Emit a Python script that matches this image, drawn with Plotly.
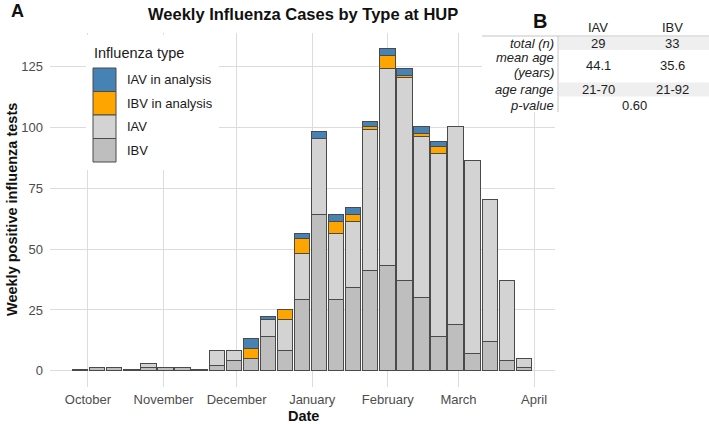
import plotly.graph_objects as go

# ---------------- data ----------------
weeks = ["2019-09-28", "2019-10-05", "2019-10-12", "2019-10-19", "2019-10-26",
         "2019-11-02", "2019-11-09", "2019-11-16", "2019-11-23", "2019-11-30",
         "2019-12-07", "2019-12-14", "2019-12-21", "2019-12-28", "2020-01-04",
         "2020-01-11", "2020-01-18", "2020-01-25", "2020-02-01", "2020-02-08",
         "2020-02-15", "2020-02-22", "2020-02-29", "2020-03-07", "2020-03-14",
         "2020-03-21", "2020-03-28"]
ibv = [0, 1, 1, 0, 1, 1, 1, 0, 2, 4, 5, 14, 8, 29, 64, 29, 34, 41, 43, 37, 30, 14, 19, 7, 12, 4, 1]
iav = [0, 0, 0, 0, 2, 0, 0, 0, 6, 4, 0, 7, 13, 19, 31, 27, 27, 58, 81, 83, 66, 75, 81, 79, 58, 33, 4]
ibv_analysis = [0, 0, 0, 0, 0, 0, 0, 0, 0, 0, 4, 0, 4, 6, 0, 5, 3, 1, 5, 1, 1, 3, 0, 0, 0, 0, 0]
iav_analysis = [0, 0, 0, 0, 0, 0, 0, 0, 0, 0, 4, 1, 0, 2, 3, 3, 3, 2, 3, 3, 3, 2, 0, 0, 0, 0, 0]

month_ticks = ["2019-10-01", "2019-11-01", "2019-12-01", "2020-01-01",
               "2020-02-01", "2020-03-01", "2020-04-01"]
month_labels = ["October", "November", "December", "January", "February", "March", "April"]
y_ticks = [0, 25, 50, 75, 100, 125]

legend_names = ["IAV in analysis", "IBV in analysis", "IAV", "IBV"]
legend_colors = ["#4682B4", "#FFA500", "#D3D3D3", "#BEBEBE"]

table_header = ["IAV", "IBV"]
table_rows = ["total (n)", "mean age", "(years)", "age range", "p-value"]
table_iav = ["29", "44.1", "21-70"]
table_ibv = ["33", "35.6", "21-92"]
table_pvalue = "0.60"

# ---------------- style ----------------
FONT = "Liberation Sans, Arial, Helvetica, sans-serif"
OUTLINE = "#4a4a4a"
GRID = "#dcdcdc"
W, H = 709, 424
L, R, T, B = 50, 555, 33, 387          # plot area in pixels
BAR_W = 6.3 * 86400000                 # 0.9 of a week in ms


def xp(px):
    return (px - L) / (R - L)


def yp(py):
    return (B - py) / (B - T)


totals = [a + b + c + d for a, b, c, d in zip(ibv, iav, ibv_analysis, iav_analysis)]
zero_weeks = [0.3 if t == 0 else 0 for t in totals]

fig = go.Figure()
fig.add_trace(go.Bar(x=weeks, y=zero_weeks, width=BAR_W, showlegend=False,
                     marker=dict(color=OUTLINE, line=dict(color=OUTLINE, width=1)),
                     hoverinfo="skip"))
series = [("IBV", ibv, legend_colors[3]), ("IAV", iav, legend_colors[2]),
          ("IBV in analysis", ibv_analysis, legend_colors[1]),
          ("IAV in analysis", iav_analysis, legend_colors[0])]
for name, vals, col in series:
    fig.add_trace(go.Bar(x=weeks, y=vals, name=name, width=BAR_W, showlegend=False,
                         marker=dict(color=col, line=dict(color=OUTLINE, width=1))))

shapes = []
annotations = []

# custom legend
shapes.append(dict(type="rect", xref="paper", yref="paper", layer="above",
                   x0=xp(86), x1=xp(219), y0=yp(35), y1=yp(170),
                   fillcolor="white", line=dict(width=0)))
annotations.append(dict(xref="paper", yref="paper", x=xp(92), y=yp(53), xanchor="left",
                        yanchor="middle", showarrow=False, text="Influenza type",
                        font=dict(family=FONT, size=14.5, color="#1a1a1a")))
key_h = 23.5
for i, (nm, col) in enumerate(zip(legend_names, legend_colors)):
    top = 68 + i * key_h
    shapes.append(dict(type="rect", xref="paper", yref="paper", layer="above",
                       x0=xp(93), x1=xp(116), y0=yp(top), y1=yp(top + key_h),
                       fillcolor=col, line=dict(color=OUTLINE, width=1)))
    annotations.append(dict(xref="paper", yref="paper", x=xp(125), y=yp(top + key_h / 2),
                            xanchor="left", yanchor="middle", showarrow=False, text=nm,
                            font=dict(family=FONT, size=13, color="#1a1a1a")))

# table panel B
shapes.append(dict(type="rect", xref="paper", yref="paper", layer="above",
                   x0=xp(482), x1=xp(709), y0=yp(30), y1=yp(112),
                   fillcolor="white", line=dict(width=0)))
for (y0, y1) in [(37, 50), (82.5, 96.5)]:
    shapes.append(dict(type="rect", xref="paper", yref="paper", layer="above",
                       x0=xp(559), x1=xp(709), y0=yp(y0), y1=yp(y1),
                       fillcolor="#efefef", line=dict(width=0)))
shapes.append(dict(type="line", xref="paper", yref="paper", layer="above",
                   x0=xp(482), x1=xp(709), y0=yp(36), y1=yp(36),
                   line=dict(color="#c4c4c4", width=1)))
shapes.append(dict(type="line", xref="paper", yref="paper", layer="above",
                   x0=xp(558), x1=xp(558), y0=yp(36), y1=yp(112),
                   line=dict(color="#c4c4c4", width=1)))

col_x = [598, 672]
label_y = [43.5, 57.5, 72, 89.5, 105]
value_y = [43.5, 65, 89.5]
tfont = dict(family=FONT, size=13, color="#222222")
for cx, h in zip(col_x, table_header):
    annotations.append(dict(xref="paper", yref="paper", x=xp(cx), y=yp(28), xanchor="center",
                            yanchor="middle", showarrow=False, text=h, font=tfont))
for ry, lab in zip(label_y, table_rows):
    annotations.append(dict(xref="paper", yref="paper", x=xp(556), y=yp(ry), xanchor="right",
                            yanchor="middle", showarrow=False, align="right",
                            text="<i>" + lab + "</i>", font=tfont))
for ry, a, b in zip(value_y, table_iav, table_ibv):
    annotations.append(dict(xref="paper", yref="paper", x=xp(col_x[0]), y=yp(ry), xanchor="center",
                            yanchor="middle", showarrow=False, text=a, font=tfont))
    annotations.append(dict(xref="paper", yref="paper", x=xp(col_x[1]), y=yp(ry), xanchor="center",
                            yanchor="middle", showarrow=False, text=b, font=tfont))
annotations.append(dict(xref="paper", yref="paper", x=xp(634), y=yp(label_y[-1]), xanchor="center",
                        yanchor="middle", showarrow=False, text=table_pvalue, font=tfont))

# panel letters, title, axis titles
annotations.append(dict(xref="paper", yref="paper", x=xp(17), y=yp(11), xanchor="center",
                        yanchor="middle", showarrow=False, text="<b>A</b>",
                        font=dict(family=FONT, size=18, color="#111111")))
annotations.append(dict(xref="paper", yref="paper", x=xp(539.5), y=yp(21), xanchor="center",
                        yanchor="middle", showarrow=False, text="<b>B</b>",
                        font=dict(family=FONT, size=20, color="#111111")))
annotations.append(dict(xref="paper", yref="paper", x=xp(303), y=yp(14), xanchor="center",
                        yanchor="middle", showarrow=False,
                        text="<b>Weekly Influenza Cases by Type at HUP</b>",
                        font=dict(family=FONT, size=16.5, color="#111111")))
annotations.append(dict(xref="paper", yref="paper", x=xp(12), y=yp(210), xanchor="center",
                        yanchor="middle", showarrow=False, textangle=-90,
                        text="<b>Weekly positive influenza tests</b>",
                        font=dict(family=FONT, size=14.5, color="#111111")))
annotations.append(dict(xref="paper", yref="paper", x=xp(303), y=yp(415.5), xanchor="center",
                        yanchor="middle", showarrow=False, text="<b>Date</b>",
                        font=dict(family=FONT, size=14.5, color="#111111")))

fig.update_layout(
    width=W, height=H, barmode="stack", bargap=0,
    margin=dict(l=L, r=W - R, t=T, b=H - B, pad=0),
    paper_bgcolor="white", plot_bgcolor="white",
    font=dict(family=FONT, size=13, color="#4d4d4d"),
    showlegend=False, shapes=shapes, annotations=annotations,
    xaxis=dict(type="date", range=["2019-09-15 10:00", "2020-04-09 14:00"],
               tickvals=month_ticks, ticktext=month_labels, showgrid=True,
               gridcolor=GRID, gridwidth=1.3, zeroline=False, showline=False,
               ticks="", ticklabelstandoff=3,
               tickfont=dict(family=FONT, size=13, color="#4d4d4d")),
    yaxis=dict(range=[-6.6, 138.6], tickvals=y_ticks, showgrid=True, gridcolor=GRID,
               gridwidth=1.3, zeroline=False, showline=False, ticks="",
               ticklabelstandoff=6,
               tickfont=dict(family=FONT, size=13, color="#4d4d4d")),
)

fig.write_html("out.html")
